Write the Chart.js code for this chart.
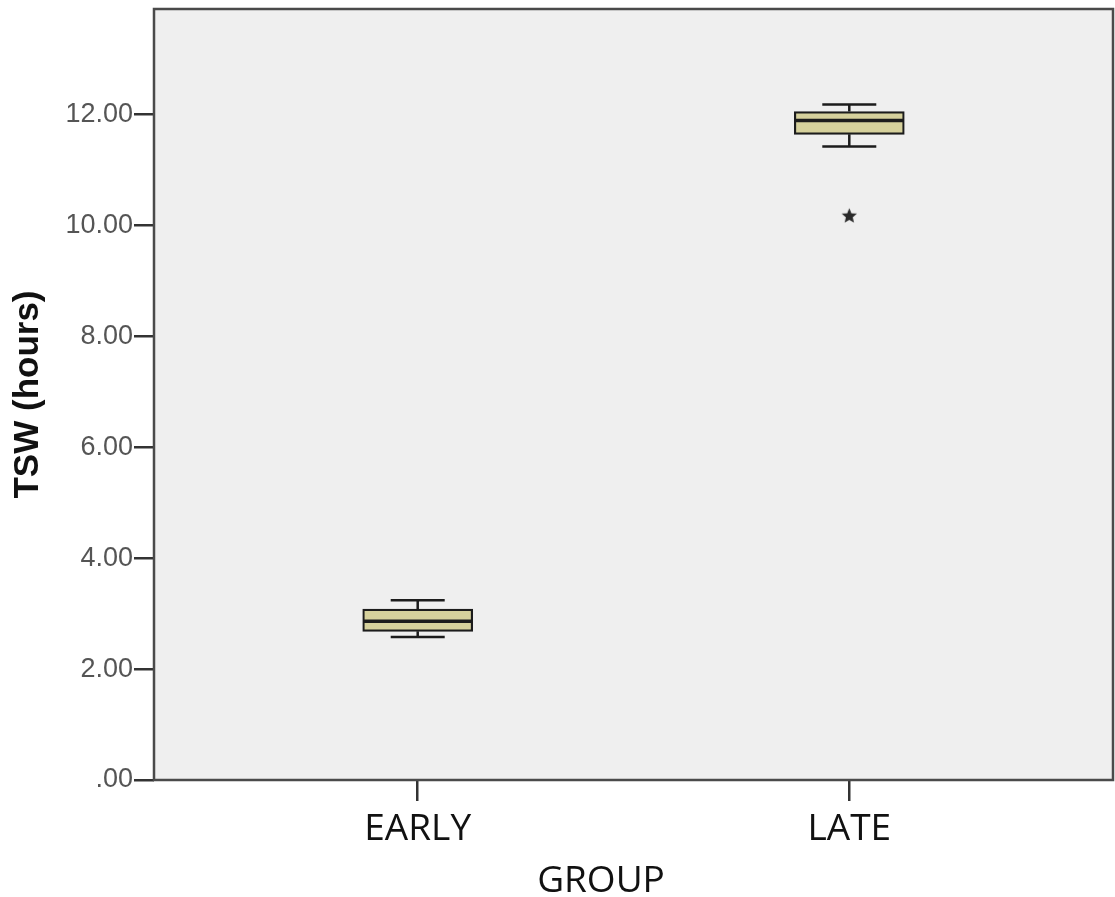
<!DOCTYPE html>
<html>
<head>
<meta charset="utf-8">
<script src="https://cdn.jsdelivr.net/npm/chart.js@4.4.1/dist/chart.umd.min.js"></script>
<style>
  html, body { margin: 0; padding: 0; background: #ffffff; }
  #wrap { width: 1115px; height: 897px; position: relative; }
</style>
</head>
<body>
<div id="wrap"><canvas id="chart" width="1115" height="897"></canvas></div>
<script>
// Groups and five-number summaries of total sleep window (hours)
const categories   = ['EARLY', 'LATE'];
const groupPos     = [1, 2];
const whiskerLow   = [2.58, 11.42];
const q1           = [2.68, 11.64];
const median       = [2.86, 11.89];
const q3           = [3.08, 12.05];
const whiskerHigh  = [3.24, 12.18];
const outliers     = [{ group: 2, value: 10.18 }];
const yTicks       = [0, 2, 4, 6, 8, 10, 12];

const BOX_FILL = '#d6d19c';
const INK = '#1c1c1c';

// five-pointed star used as the extreme-value marker
function makeStar(size, color) {
  const c = document.createElement('canvas');
  c.width = size; c.height = size;
  const g = c.getContext('2d');
  const cx = size / 2, cy = size / 2 + 0.8, R = size / 2 - 0.5, r = R * 0.45;
  g.beginPath();
  for (let i = 0; i < 10; i++) {
    const rad = i % 2 === 0 ? R : r;
    const a = -Math.PI / 2 + i * Math.PI / 5;
    const px = cx + rad * Math.cos(a), py = cy + rad * Math.sin(a);
    if (i === 0) g.moveTo(px, py); else g.lineTo(px, py);
  }
  g.closePath();
  g.fillStyle = color;
  g.fill();
  return c;
}

const boxData = groupPos.map((x, i) => ({ x: x, y: [q1[i], q3[i]] }));
const outlierData = outliers.map(o => ({ x: o.group, y: o.value }));

// plot background, whiskers, medians and frame
const boxplotDecor = {
  id: 'boxplotDecor',
  beforeDatasetsDraw(chart) {
    const { ctx, chartArea: a } = chart;
    ctx.save();
    ctx.fillStyle = '#efefef';
    ctx.fillRect(a.left, a.top, a.right - a.left, a.bottom - a.top);
    const xs = chart.scales.x, ys = chart.scales.y;
    ctx.strokeStyle = INK;
    ctx.lineWidth = 2.5;
    groupPos.forEach((g, i) => {
      const cx = xs.getPixelForValue(g);
      const capHalf = 27;
      const yHi = ys.getPixelForValue(whiskerHigh[i]);
      const yQ3 = ys.getPixelForValue(q3[i]);
      const yQ1 = ys.getPixelForValue(q1[i]);
      const yLo = ys.getPixelForValue(whiskerLow[i]);
      ctx.beginPath();
      ctx.moveTo(cx, yHi); ctx.lineTo(cx, yQ3);
      ctx.moveTo(cx, yQ1); ctx.lineTo(cx, yLo);
      ctx.moveTo(cx - capHalf, yHi); ctx.lineTo(cx + capHalf, yHi);
      ctx.moveTo(cx - capHalf, yLo); ctx.lineTo(cx + capHalf, yLo);
      ctx.stroke();
    });
    ctx.restore();
  },
  afterDatasetsDraw(chart) {
    const { ctx, chartArea: a } = chart;
    const xs = chart.scales.x, ys = chart.scales.y;
    ctx.save();
    ctx.strokeStyle = INK;
    ctx.lineWidth = 3.5;
    groupPos.forEach((g, i) => {
      const cx = xs.getPixelForValue(g);
      const ym = ys.getPixelForValue(median[i]);
      ctx.beginPath();
      ctx.moveTo(cx - 54, ym); ctx.lineTo(cx + 54, ym);
      ctx.stroke();
    });
    // plot frame
    ctx.strokeStyle = '#4a4a4a';
    ctx.lineWidth = 2.5;
    ctx.strokeRect(a.left, a.top, a.right - a.left, a.bottom - a.top);
    // x-axis title
    ctx.fillStyle = '#111111';
    ctx.font = '37px "Open Sans"';
    ctx.textAlign = 'center';
    ctx.textBaseline = 'alphabetic';
    ctx.fillText('GROUP', 601, 892);
    ctx.restore();
  }
};

new Chart(document.getElementById('chart'), {
  data: {
    datasets: [
      {
        type: 'bar',
        data: boxData,
        backgroundColor: BOX_FILL,
        borderColor: INK,
        borderWidth: 2.2,
        borderSkipped: false,
        barThickness: 110,
        order: 2
      },
      {
        type: 'scatter',
        data: outlierData,
        pointStyle: makeStar(17, '#2a2a2a'),
        pointRadius: 1,
        pointHoverRadius: 0,
        pointBorderWidth: 0,
        order: 1
      }
    ]
  },
  options: {
    responsive: false,
    animation: false,
    events: [],
    layout: { padding: { top: 9, right: 2, left: 0, bottom: 0 } },
    plugins: { legend: { display: false }, tooltip: { enabled: false } },
    scales: {
      x: {
        type: 'linear',
        offset: false,
        min: 0.389,
        max: 2.611,
        afterBuildTicks(scale) { scale.ticks = groupPos.map(v => ({ value: v })); },
        afterFit(scale) {
          scale.height = 117;
          scale.paddingLeft = 0; scale.paddingRight = 0;
        },
        ticks: {
          callback: (v) => categories[groupPos.indexOf(v)] || '',
          font: { family: '"Open Sans"', size: 37 },
          color: '#111111',
          padding: 6,
          maxRotation: 0,
          autoSkip: false
        },
        grid: { offset: false, drawOnChartArea: false, tickLength: 21, color: '#333333', lineWidth: 2.5 },
        border: { display: false }
      },
      y: {
        type: 'linear',
        min: 0,
        max: 13.9,
        afterBuildTicks(scale) { scale.ticks = yTicks.map(v => ({ value: v })); },
        afterFit(scale) {
          scale.width = 154;
          scale.paddingTop = 0; scale.paddingBottom = 0;
        },
        ticks: {
          callback: (v) => v === 0 ? '.00' : v.toFixed(2),
          font: { family: '"Liberation Sans"', size: 27 },
          color: '#555555',
          padding: 1
        },
        grid: { drawOnChartArea: false, tickLength: 20, color: '#333333', lineWidth: 2.5 },
        border: { display: false },
        title: {
          display: true,
          text: 'TSW (hours)',
          font: { family: '"Liberation Sans"', size: 35, weight: 'bold' },
          color: '#111111',
          padding: { top: 7, bottom: 0 }
        }
      }
    }
  },
  plugins: [boxplotDecor]
});
</script>
</body>
</html>
